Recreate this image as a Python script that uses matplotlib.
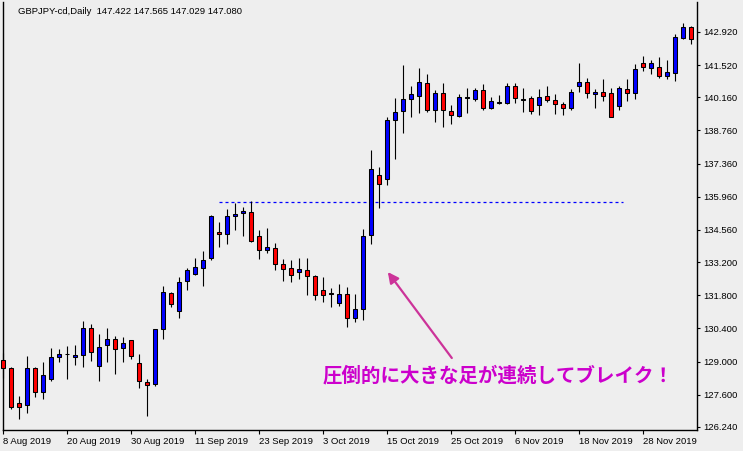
import matplotlib
matplotlib.use("Agg")
import matplotlib.pyplot as plt

# GBPJPY daily bars, 8 Aug 2019 .. 6 Dec 2019
opens = [129.07,128.72,127.24,127.16,128.72,127.70,128.25,129.18,129.30,129.21,
	129.27,130.41,128.80,129.69,129.94,129.56,129.90,128.93,128.13,128.04,
	130.36,131.88,131.12,132.39,132.68,132.94,133.36,134.46,134.37,135.13,
	135.26,135.30,134.29,133.70,133.78,133.11,132.94,132.77,132.85,132.60,
	132.01,131.88,131.46,131.84,130.83,131.21,134.33,136.86,136.69,139.18,
	139.56,140.07,140.20,140.74,139.61,140.32,139.56,139.35,140.11,140.07,
	140.45,139.69,139.90,139.90,140.62,140.03,140.11,139.82,140.20,140.03,
	139.86,139.69,140.62,140.79,140.28,140.36,140.32,139.77,140.49,140.32,
	141.59,141.38,141.42,141.04,141.17,142.64,143.11]
closes = [128.72,127.07,127.10,128.72,127.70,128.42,129.18,129.31,129.31,129.27,
	130.41,129.39,129.60,129.94,129.52,129.77,129.22,128.17,128.00,130.36,
	131.92,131.42,132.35,132.85,132.98,133.28,135.13,134.37,135.13,135.22,
	135.34,134.10,133.70,133.82,133.11,132.90,132.64,132.90,132.60,131.80,
	131.80,131.87,131.84,130.83,131.21,134.29,137.12,136.48,139.18,139.52,
	140.07,140.28,140.79,139.61,140.32,139.61,139.39,140.15,140.15,140.45,
	139.69,139.99,139.94,140.62,140.11,140.07,139.56,140.15,140.03,139.86,
	139.69,140.36,140.79,140.32,140.36,140.20,139.34,140.53,140.32,141.34,
	141.42,141.59,141.04,141.21,142.69,143.11,142.60]
highs = [129.35,128.76,127.55,129.24,128.76,128.98,129.57,129.53,129.66,129.70,
	130.71,130.59,130.17,130.41,130.07,130.03,129.91,129.31,128.25,130.38,
	132.20,131.92,132.56,132.94,133.36,133.66,135.17,134.88,135.43,135.68,
	135.54,135.78,134.55,134.63,133.99,133.32,133.28,133.36,133.36,132.64,
	132.56,132.09,132.26,132.14,131.84,134.58,137.93,137.20,139.32,140.11,
	141.50,140.62,141.38,141.12,140.45,140.74,139.82,140.28,140.53,140.53,
	140.70,140.15,140.24,140.74,140.74,140.53,140.20,140.49,140.62,140.28,
	139.94,140.49,141.59,140.96,140.49,140.93,140.53,140.63,140.93,141.55,
	141.88,141.72,141.84,141.72,142.83,143.28,143.15]
lows = [128.30,126.99,126.57,126.82,127.49,127.43,128.17,128.97,128.25,128.86,
	128.76,129.01,128.17,129.00,128.46,128.97,129.10,127.87,126.69,127.96,
	129.94,131.29,130.83,132.01,132.64,132.18,133.28,133.85,133.98,134.57,
	134.28,134.06,133.34,133.57,132.85,132.39,132.35,132.47,131.80,131.59,
	131.50,131.29,131.33,130.45,130.66,130.74,133.96,135.49,136.44,137.54,
	138.63,139.34,139.48,139.52,139.10,138.89,139.01,139.32,139.48,139.99,
	139.61,139.65,139.86,139.86,139.90,139.52,139.44,139.39,139.94,139.44,
	139.39,139.61,140.36,140.11,139.69,139.99,139.31,139.60,139.99,140.07,
	141.25,141.12,140.96,140.91,140.83,142.60,142.39]

date_labels = ["8 Aug 2019", "20 Aug 2019", "30 Aug 2019", "11 Sep 2019", "23 Sep 2019",
	"3 Oct 2019", "15 Oct 2019", "25 Oct 2019", "6 Nov 2019", "18 Nov 2019", "28 Nov 2019"]
date_idx = [0, 8, 16, 24, 32, 40, 48, 56, 64, 72, 80]
price_ticks = [126.24, 127.60, 129.00, 130.40, 131.80, 133.20, 134.56, 135.96,
	137.36, 138.76, 140.16, 141.52, 142.92]

resistance = 135.72
res_from, res_to = 27, 77.5
header = "GBPJPY-cd,Daily  147.422 147.565 147.029 147.080"
note = "圧倒的に大きな足が連続してブレイク！"
arrow_tip = (48.1, 132.78)
arrow_tail = (56.1, 129.15)
note_pos = (39.9, 128.39)

bg = "#eeeeee"
plt.rcParams['font.family'] = ['Liberation Sans', 'DejaVu Sans']

fig = plt.figure(figsize=(7.43, 4.51), dpi=100, facecolor=bg)
ax = fig.add_axes([2.7/743, 21/451, (697-2.7)/743, (430-2)/451], facecolor=bg)

for i in range(len(opens)):
	o, c = opens[i], closes[i]
	col = "#0000ff" if c >= o else "#ff0000"
	ax.vlines(i, lows[i], highs[i], color="black", lw=0.8, zorder=2, clip_on=False)
	ax.bar(i, max(abs(c - o), 0.01), width=0.5, bottom=min(o, c), color=col,
		edgecolor="black", linewidth=0.75, zorder=3, clip_on=False)

ax.hlines(resistance, res_from, res_to, color="#0000ff", lw=0.9,
	linestyles=(0, (2.4, 2.4)), zorder=1)

ax.annotate("", xy=arrow_tip, xytext=arrow_tail,
	arrowprops=dict(arrowstyle="-|>", color="#cc3399", lw=1.6, mutation_scale=16,
		shrinkA=0, shrinkB=0))
ax.text(note_pos[0], note_pos[1], note, color="#cc00cc", fontsize=14, fontweight="bold",
	family=["Noto Sans CJK JP", "DejaVu Sans"], ha="left", va="center")

fig.text(18/743, 1 - 11/451, header, fontsize=6.8, ha="left", va="center")

ax.set_xlim(-0.04, 86.75)
ax.set_ylim(126.11, 144.18)

ax.set_xticks(date_idx)
ax.set_xticklabels(date_labels, fontsize=6.8, ha="left")
ax.set_yticks(price_ticks)
ax.set_yticklabels(["%.3f" % p for p in price_ticks], fontsize=6.8)
ax.yaxis.tick_right()
ax.tick_params(axis="x", length=3, width=0.8, pad=2)
ax.tick_params(axis="y", length=2.5, width=0.8, pad=2)

ax.spines["top"].set_visible(False)
for s in ["left", "right", "bottom"]:
	ax.spines[s].set_linewidth(1.0)

fig.savefig("out.png", dpi=100, facecolor=bg)
